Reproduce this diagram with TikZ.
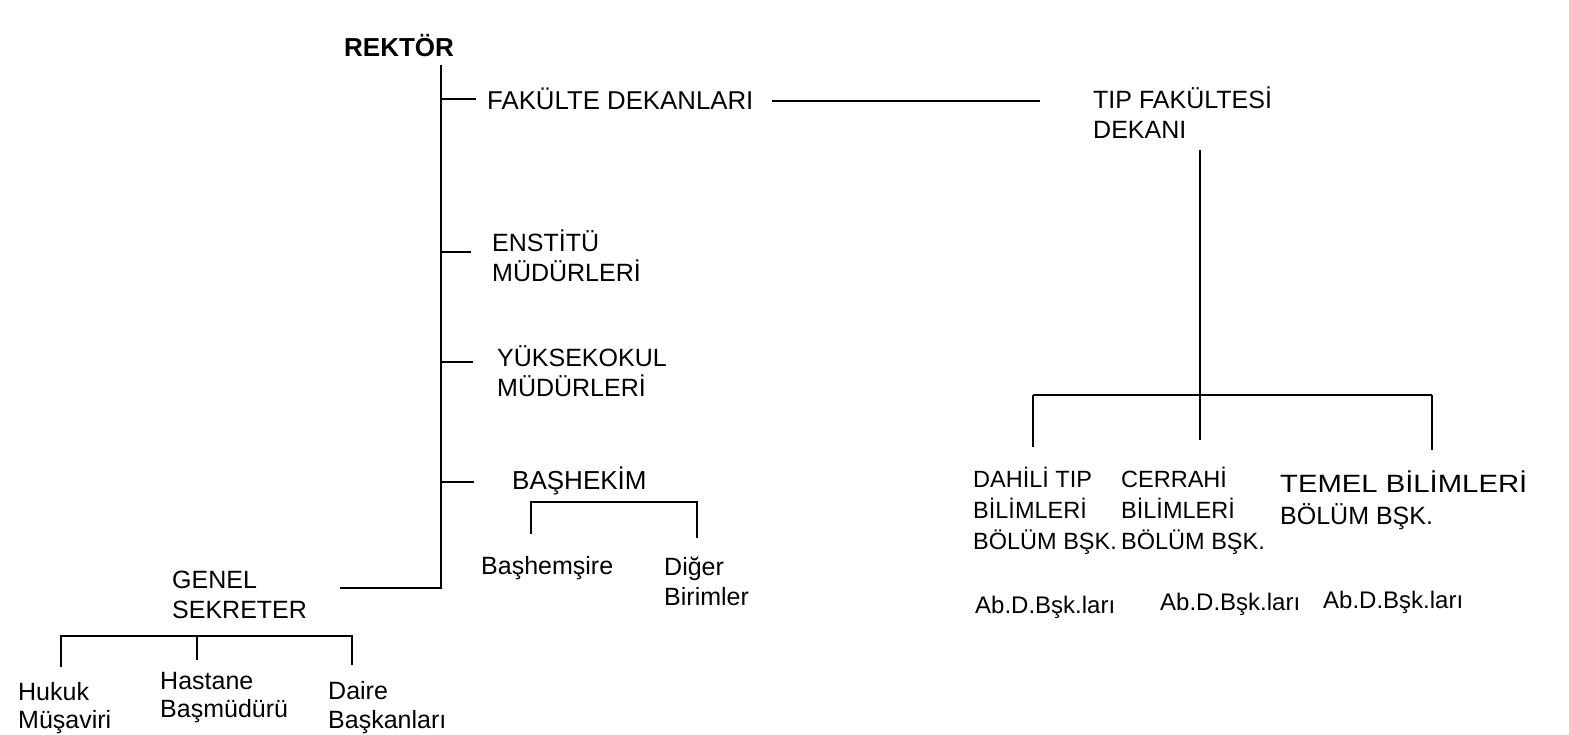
\documentclass[tikz,border=0pt]{standalone}
\usepackage{fontspec}
\usepackage{graphicx}
\setmainfont{Liberation Sans}
\begin{document}
\begin{tikzpicture}[x=1pt,y=-1pt,
  lbl/.style={font=\fontsize{25}{30}\selectfont, anchor=base west, inner sep=0pt, align=left},
  ln/.style={line width=1.8pt}]
\useasboundingbox (0,0) rectangle (1569,735);
% text nodes (base = baseline of last line)
\node[lbl,font=\fontsize{26}{30}\selectfont\bfseries] (rektor) at (344,57) {REKTÖR};
\node[lbl,font=\fontsize{25.8}{30}\selectfont] (fak) at (487,110) {FAKÜLTE DEKANLARI};
\node[lbl] (tip) at (1093,139) {TIP FAKÜLTESİ\\DEKANI};
\node[lbl] (ens) at (492,282) {ENSTİTÜ\\MÜDÜRLERİ};
\node[lbl] (yuk) at (497,396) {YÜKSEKOKUL\\MÜDÜRLERİ};
\node[lbl,font=\fontsize{26}{30}\selectfont] (bas) at (512,489) {BAŞHEKİM};
\node[lbl] (bhs) at (481,574) {Başhemşire};
\node[lbl] (dig) at (664,605) {Diğer\\Birimler};
\node[lbl] (gen) at (172,618) {GENEL\\SEKRETER};
\node[lbl,font=\fontsize{25}{28}\selectfont] (huk) at (18,728) {Hukuk\\Müşaviri};
\node[lbl,font=\fontsize{25}{28}\selectfont] (has) at (160,717) {Hastane\\Başmüdürü};
\node[lbl,font=\fontsize{25}{29}\selectfont] (dai) at (328,728) {Daire\\Başkanları};
\node[lbl,font=\fontsize{23.5}{31}\selectfont] (dah) at (973,549) {DAHİLİ TIP\\BİLİMLERİ\\BÖLÜM BŞK.};
\node[lbl,font=\fontsize{23.5}{31}\selectfont] (cer) at (1121,549) {CERRAHİ\\BİLİMLERİ\\BÖLÜM BŞK.};
\node[lbl,font=\fontsize{25}{32}\selectfont] (tem) at (1280,524) {\scalebox{1.17}[1]{TEMEL BİLİMLERİ}\\BÖLÜM BŞK.};
\node[lbl,font=\fontsize{24}{30}\selectfont] (ab1) at (975,613) {Ab.D.Bşk.ları};
\node[lbl,font=\fontsize{24}{30}\selectfont] (ab2) at (1160,610) {Ab.D.Bşk.ları};
\node[lbl,font=\fontsize{24}{30}\selectfont] (ab3) at (1323,608) {Ab.D.Bşk.ları};
% junction coordinates
\coordinate (top) at (441,65);
\coordinate (bot) at (441,588);
\coordinate (tF) at (441,99);   \coordinate (tFe) at (476,99);
\coordinate (tE) at (441,252);  \coordinate (tEe) at (471,252);
\coordinate (tY) at (441,362);  \coordinate (tYe) at (473,362);
\coordinate (tB) at (441,482);  \coordinate (tBe) at (474,482);
\coordinate (fl1) at (772,101); \coordinate (fl2) at (1040,101);
\coordinate (tv1) at (1200,150); \coordinate (tv2) at (1200,395);
\coordinate (h1) at (1033,395); \coordinate (h3) at (1432,395);
\coordinate (bh1) at (531,502); \coordinate (bh2) at (697,502);
\coordinate (gs) at (340,588);
\coordinate (g1) at (61,636); \coordinate (g2) at (197,636); \coordinate (g3) at (352,636);
% connectors
\draw[ln] (top) -- (bot) -- (gs);
\draw[ln] (tF) -- (tFe);
\draw[ln] (tE) -- (tEe);
\draw[ln] (tY) -- (tYe);
\draw[ln] (tB) -- (tBe);
\draw[ln] (fl1) -- (fl2);
\draw[ln] (tv1) -- (tv2);
\draw[ln] (h1) -- (h3);
\draw[ln] (h1) -- ++(0,52);
\draw[ln] (tv2) -- ++(0,45);
\draw[ln] (h3) -- ++(0,55);
\draw[ln] (bh1 |- 0,534) -- (bh1) -- (bh2) -- (bh2 |- 0,538);
\draw[ln] (g1 |- 0,667) -- (g1) -- (g3) -- (g3 |- 0,665);
\draw[ln] (g2) -- ++(0,24);
\end{tikzpicture}
\end{document}
